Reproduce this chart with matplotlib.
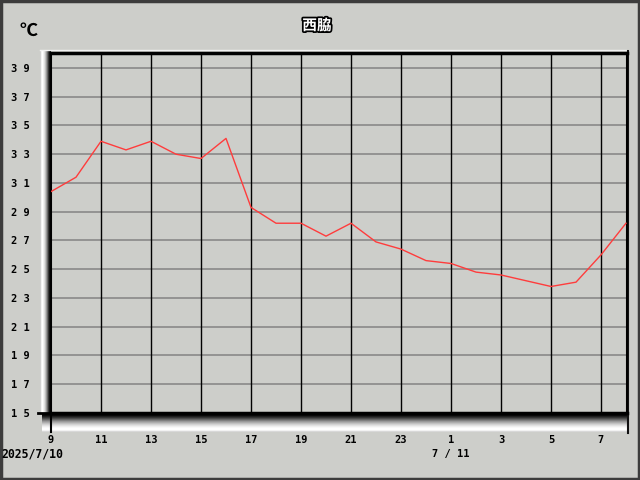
import matplotlib.pyplot as plt
import matplotlib.patheffects as pe
from matplotlib.patches import Rectangle
import numpy as np

# hourly temperature, 2025/7/10 9:00 -> 7/11 8:00
hours = list(range(9, 33))
temps = [30.4, 31.4, 33.9, 33.3, 33.9, 33.0, 32.7, 34.1,
         29.3, 28.2, 28.2, 27.3, 28.2, 26.9, 26.4, 25.6,
         25.4, 24.8, 24.6, 24.2, 23.8, 24.1, 26.0, 28.2]
x_ticks = list(range(9, 32, 2))
x_labels = [str(h % 24) for h in x_ticks]
y_ticks = list(range(15, 40, 2))
y_labels = [" ".join(str(v)) for v in y_ticks]
title = "西脇"
unit = "℃"
date_labels = [("2025/7/10", 9, 8.3), ("7 / 11", 25, 7.5)]

BG = "#cdceca"
mono = {"family": "DejaVu Sans Mono", "weight": "bold", "size": 7.5}

fig = plt.figure(figsize=(6.4, 4.8), dpi=100, facecolor=BG)

# decoration layer in pixel coordinates
bg = fig.add_axes([0, 0, 1, 1], zorder=0)
bg.axis("off")

# left bevel: light -> black
lv = np.array([0.82, 0.95, 1.0, 0.95, 0.88, 0.76, 0.6, 0.42, 0.22, 0.08, 0.0])
bg.imshow(np.repeat(lv[None, :, None], 3, axis=2), extent=(40, 51, 413, 50),
          aspect="auto", interpolation="nearest", zorder=1)
# bottom bevel: black -> white
bv = np.array([0.0, 0.05, 0.12, 0.2, 0.3, 0.4, 0.5, 0.6, 0.68, 0.76,
               0.83, 0.89, 0.94, 0.98, 1.0, 1.0, 0.95, 0.85])
bg.imshow(np.repeat(np.repeat(bv[:, None, None], 3, axis=2), 2, axis=1),
          extent=(42, 627, 432, 414), aspect="auto", interpolation="nearest", zorder=1)
bg.plot([40, 628], [50, 50], color="#f2f2f2", lw=1, zorder=2)
bg.plot([627.5, 627.5], [51, 433], color="#111111", lw=1.5, zorder=3)
bg.plot([38, 52], [413, 413], color="black", lw=2, zorder=3)
bg.plot([51, 51], [410, 432], color="black", lw=1.5, zorder=3)
bg.add_patch(Rectangle((0.5, 0.5), 638.5, 478.5, fill=False, ec="#3c3c3c", lw=2.5, zorder=5))
bg.set_xlim(0, 640)
bg.set_ylim(480, 0)

bg.text(317, 25, title, ha="center", va="center", color="white", fontsize=10.5,
        fontweight="bold", family=["Noto Sans CJK JP", "DejaVu Sans"],
        path_effects=[pe.withStroke(linewidth=2.5, foreground="black")])
bg.text(28, 30, unit, ha="center", va="center", fontsize=13, fontweight="bold",
        family=["Noto Sans CJK JP", "DejaVu Sans"])

ax = fig.add_axes([51 / 640, 67 / 480, 576 / 640, 360 / 480], zorder=1)
ax.set_facecolor(BG)
ax.set_xlim(9, 32.04)
ax.set_ylim(15, 40.04)

for y in y_ticks[1:]:
    ax.axhline(y, color="#8e8e8e", lw=1.3, zorder=1)
for x in x_ticks[1:]:
    ax.axvline(x, color="black", lw=1, zorder=1)

ax.plot(hours, temps, color="#ff3c3c", lw=1, zorder=3)

ax.set_xticks(x_ticks)
ax.set_xticklabels(x_labels, fontdict=mono)
ax.set_yticks(y_ticks)
ax.set_yticklabels(y_labels, fontdict=mono)
ax.tick_params(axis="x", length=0, pad=16)
ax.tick_params(axis="y", length=0, pad=15)

for s in ax.spines.values():
    s.set_color("black")
ax.spines["top"].set_linewidth(2.5)
ax.spines["right"].set_linewidth(1.5)
ax.spines["left"].set_linewidth(1.5)
ax.spines["bottom"].set_linewidth(2.5)

for text, hx, fs in date_labels:
    date_font = dict(mono, size=fs)
    if hx == 9:
        fig.text(1 / 640, 1 - 454 / 480, text, ha="left", va="center", fontdict=date_font)
    else:
        ax.text(hx, -0.114, text, ha="center", va="center", fontdict=date_font,
                transform=ax.get_xaxis_transform())

fig.savefig("out.png", dpi=100, facecolor=BG)
